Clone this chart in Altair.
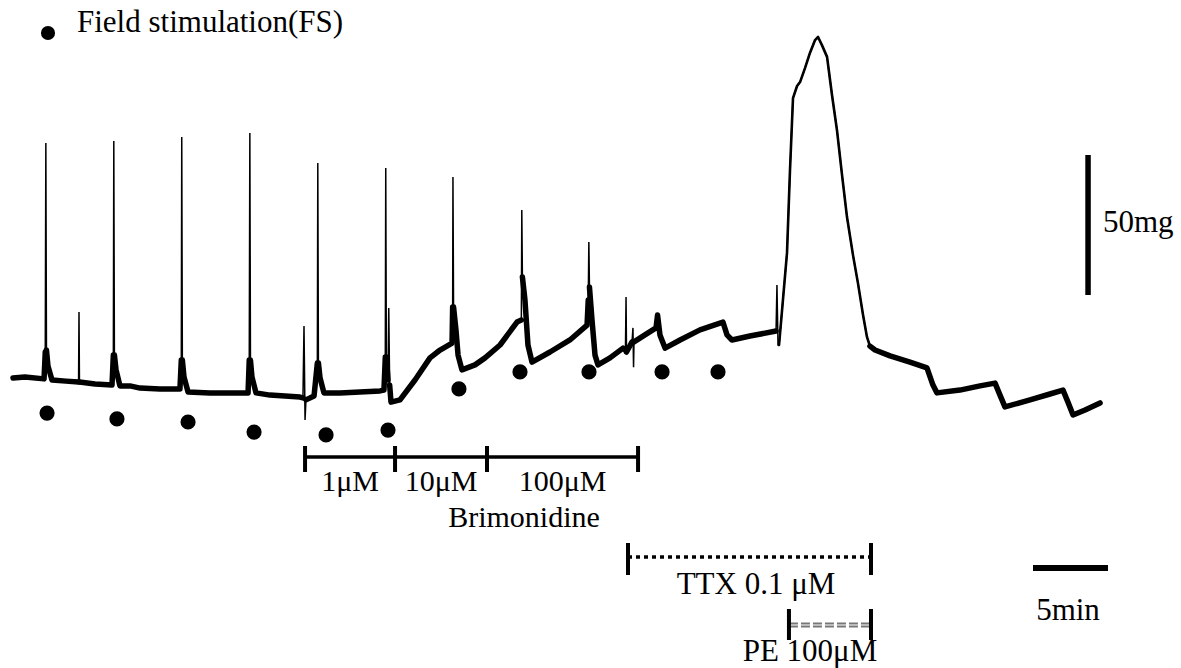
import altair as alt
import pandas as pd

# ---- isometric tension trace: time (min), tension (mg, relative), kind ----
# kind: b = noisy baseline band, s = thin fast spike, p = PE contraction
trace_min = [
    0, 0.8, 2.07, 2.15, 2.19, 2.23, 2.33, 2.6, 3.53, 4.37, 4.4, 4.43, 5.47, 6.6,
    6.69, 6.72, 6.76, 6.87, 7.13, 7.8, 8.47, 9.8, 11.13, 11.22, 11.25, 11.29, 11.4,
    11.67, 13.13, 14.47, 15.67, 15.75, 15.79, 15.83, 15.93, 16.2, 17.13, 18.13, 19.13,
    19.33, 19.4, 19.47, 19.53, 20.07, 20.29, 20.32, 20.36, 20.47, 20.73, 21.8, 23.13,
    24.47, 24.73, 24.82, 24.85, 24.89, 25.0, 25.05, 25.11, 25.2, 25.8, 26.8, 27.8,
    28.47, 29.27, 29.31, 29.33, 29.37, 29.53, 29.67, 29.93, 30.8, 31.47, 32.47, 33.6,
    33.89, 33.92, 33.96, 34.13, 34.33, 34.6, 35.8, 37.13, 38.27, 38.35, 38.39, 38.43,
    38.6, 38.8, 39.0, 39.8, 40.67, 40.83, 40.87, 40.9, 41.27, 41.33, 41.37, 41.4,
    42.13, 42.87, 42.97, 43.13, 43.47, 44.47, 45.8, 47.33, 47.6, 47.93, 49.13, 50.87,
    50.93, 51.0, 51.07, 51.33, 51.6, 51.8, 52.0, 52.27, 52.47, 52.8, 53.13, 53.47,
    53.67, 53.93, 54.27, 54.6, 54.93, 55.27, 55.6, 56.0, 56.33, 56.67, 56.93, 57.13,
    57.47, 58.47, 59.8, 60.93, 61.33, 61.6, 63.13, 64.47, 65.47, 65.8, 66.13, 67.8,
    69.13, 70.0, 70.33, 70.67, 71.47, 72.47,
]
trace_mg = [
    0.7, 1.1, 0.4, 10.0, 84.6, 10.7, 5.0, 0.0, -0.4, -0.7, 24.3, -0.7, -1.4, -1.8,
    8.9, 85.4, 8.9, 3.6, -2.1, -2.1, -2.9, -3.2, -3.2, 7.1, 86.8, 7.1, 1.1,
    -4.3, -4.6, -4.6, -4.6, 7.1, 88.2, 7.1, 1.1, -4.6, -5.4, -5.7, -6.1,
    -6.4, 19.3, -14.3, -7.1, -5.7, 6.1, 77.5, 6.1, 0.7, -4.6, -4.6, -4.3,
    -3.9, -3.6, 8.2, 75.7, 8.2, 0.0, 25.7, -1.8, -7.9, -7.1, 0.0, 7.9,
    10.7, 13.2, 26.1, 72.5, 26.1, 17.9, 8.9, 3.6, 5.4, 7.9, 12.5, 20.7,
    21.4, 60.7, 36.8, 28.6, 12.5, 6.4, 10.0, 14.3, 19.6, 28.6, 49.3, 33.2,
    21.4, 8.9, 5.4, 7.9, 11.4, 10.7, 29.6, 10.0, 13.6, 18.6, 4.6, 13.6,
    16.1, 18.6, 23.2, 16.1, 11.4, 14.3, 17.9, 20.7, 16.1, 14.3, 15.7, 17.5,
    33.9, 12.5, 12.5, 28.6, 45.4, 75.0, 100.7, 105.0, 106.4, 111.4, 116.8, 121.4,
    122.5, 119.6, 115.4, 101.8, 89.3, 73.2, 58.2, 44.6, 34.6, 23.2, 15.4, 12.1,
    10.7, 8.6, 6.4, 4.3, -1.8, -4.6, -3.6, -2.1, -1.1, -5.4, -9.6, -7.1,
    -5.0, -3.6, -7.9, -12.5, -10.7, -8.2,
]
trace_kind = list(
    "bbbbsbbbbbsbbb"
    "bsbbbbbbbbsbb"
    "bbbbbsbbbbbb"
    "bssbbbsbbbbb"
    "bbbsbbsbbbbb"
    "bbbsbbbbbbbb"
    "bsbbbbbbbbsb"
    "bbbbbbsbbssb"
    "bbbbbbbbbbbb"
    "sppppppppppp"
    "pppppppppppb"
    "bbbbbbbbbbbb"
    "bbbbbb"
)

# ---- field stimulation markers ----
fs_min = [2.27, 6.93, 11.67, 16.07, 20.87, 25.0, 29.73, 33.8, 38.4, 43.27, 47.0]
fs_mg = [-11.8, -13.9, -15.0, -18.6, -19.6, -17.9, -3.2, 2.9, 2.9, 2.9, 2.9]

# ---- drug applications (min) ----
dose_labels = ["1μM", "10μM", "100μM"]
dose_start = [19.47, 25.47, 31.6]
dose_end = [25.47, 31.6, 41.67]
ttx_span = [41.0, 57.2]
pe_span = [51.73, 57.2]

# ---- scale bars ----
bar_mg = [30.4, 80.4]      # 50 mg
bar_mg_time = 71.67
bar_min = [68.0, 73.0]     # 5 min

FONT = "Liberation Serif"
FS = 31
FS_DOSE = 30

# segment ids so that thick/medium strokes break around thin spikes
thick_seg, med_seg = [], []
ts = ms = 0
for k in trace_kind:
    if k != "b":
        ts += 1
    if k == "s":
        ms += 1
    thick_seg.append(ts)
    med_seg.append(ms)

trace = pd.DataFrame({"t": trace_min, "mg": trace_mg, "kind": trace_kind,
                      "tseg": thick_seg, "mseg": med_seg,
                      "i": list(range(len(trace_min)))})

xs = alt.Scale(domain=[-13 / 15, (1181 - 13) / 15], nice=False, zero=False)
ys = alt.Scale(domain=[(380 - 668) / 2.8, 380 / 2.8], nice=False, zero=False)


def X(f):
    return alt.X(f, type="quantitative", scale=xs, axis=None)


def Y(f):
    return alt.Y(f, type="quantitative", scale=ys, axis=None)


base = alt.Chart(trace)
thin = base.mark_line(color="black", strokeWidth=1.5).encode(
    x=X("t"), y=Y("mg"), order="i:Q")
medium = base.transform_filter("datum.kind != 's'").mark_line(
    color="black", strokeWidth=2.6, strokeJoin="round").encode(
    x=X("t"), y=Y("mg"), detail="mseg:N", order="i:Q")
thick = base.transform_filter("datum.kind == 'b'").mark_line(
    color="black", strokeWidth=5.5, strokeJoin="round", strokeCap="round").encode(
    x=X("t"), y=Y("mg"), detail="tseg:N", order="i:Q")

dots = alt.Chart(pd.DataFrame({"t": fs_min, "mg": fs_mg})).mark_circle(
    color="black", opacity=1, size=230).encode(x=X("t"), y=Y("mg"))

legend_dot = alt.Chart(pd.DataFrame({"a": [0]})).mark_circle(
    color="black", opacity=1, size=200).encode(x=alt.value(48), y=alt.value(33))
legend_txt = alt.Chart(pd.DataFrame({"txt": ["Field stimulation(FS)"]})).mark_text(
    font=FONT, fontSize=FS, align="left", baseline="alphabetic", color="black").encode(
    x=alt.value(77), y=alt.value(32), text="txt:N")

doses = pd.DataFrame({"lab": dose_labels, "s": dose_start, "e": dose_end})
doses["mid"] = (doses["s"] + doses["e"]) / 2
dose_line = alt.Chart(pd.DataFrame({"s": [dose_start[0]], "e": [dose_end[-1]]})).mark_rule(
    color="black", strokeWidth=3.5).encode(x=X("s"), x2="e", y=alt.value(457))
dose_ticks = alt.Chart(pd.DataFrame({"t": dose_start + [dose_end[-1]]})).mark_rule(
    color="black", strokeWidth=4).encode(x=X("t"), y=alt.value(446), y2=alt.value(472))
dose_txt = alt.Chart(doses).mark_text(
    font=FONT, fontSize=FS_DOSE, align="center", baseline="alphabetic", color="black").encode(
    x=X("mid"), y=alt.value(491), text="lab:N")
brim_txt = alt.Chart(pd.DataFrame({"txt": ["Brimonidine"]})).mark_text(
    font=FONT, fontSize=FS_DOSE, align="center", baseline="alphabetic", color="black").encode(
    x=alt.value(524), y=alt.value(527), text="txt:N")

ttx_line = alt.Chart(pd.DataFrame({"s": [ttx_span[0]], "e": [ttx_span[1]]})).mark_rule(
    color="black", strokeWidth=3.5, strokeDash=[4, 4]).encode(
    x=X("s"), x2="e", y=alt.value(557))
ttx_ticks = alt.Chart(pd.DataFrame({"t": ttx_span})).mark_rule(
    color="black", strokeWidth=4).encode(x=X("t"), y=alt.value(543), y2=alt.value(575))
ttx_txt = alt.Chart(pd.DataFrame({"txt": ["TTX 0.1 μM"]})).mark_text(
    font=FONT, fontSize=FS, align="center", baseline="alphabetic", color="black").encode(
    x=alt.value(756), y=alt.value(594), text="txt:N")

pe_line = alt.Chart(pd.DataFrame({"s": [pe_span[0]], "e": [pe_span[1]]})).mark_rule(
    color="#777777", strokeWidth=5, strokeDash=[9, 3]).encode(
    x=X("s"), x2="e", y=alt.value(625))
pe_gap = alt.Chart(pd.DataFrame({"s": [pe_span[0]], "e": [pe_span[1]]})).mark_rule(
    color="white", strokeWidth=1.2).encode(x=X("s"), x2="e", y=alt.value(625))
pe_ticks = alt.Chart(pd.DataFrame({"t": pe_span})).mark_rule(
    color="black", strokeWidth=4).encode(x=X("t"), y=alt.value(609), y2=alt.value(640))
pe_txt = alt.Chart(pd.DataFrame({"txt": ["PE 100μM"]})).mark_text(
    font=FONT, fontSize=FS, align="center", baseline="alphabetic", color="black").encode(
    x=alt.value(810), y=alt.value(661), text="txt:N")

mg_bar = alt.Chart(pd.DataFrame({"t": [bar_mg_time], "a": [bar_mg[0]], "b": [bar_mg[1]]})).mark_rule(
    color="black", strokeWidth=5.5).encode(x=X("t"), y=Y("a"), y2="b")
mg_txt = alt.Chart(pd.DataFrame({"txt": ["50mg"]})).mark_text(
    font=FONT, fontSize=FS, align="left", baseline="alphabetic", color="black").encode(
    x=alt.value(1103), y=alt.value(232), text="txt:N")
min_bar = alt.Chart(pd.DataFrame({"a": [bar_min[0]], "b": [bar_min[1]]})).mark_rule(
    color="black", strokeWidth=6).encode(x=X("a"), x2="b", y=alt.value(568))
min_txt = alt.Chart(pd.DataFrame({"txt": ["5min"]})).mark_text(
    font=FONT, fontSize=FS, align="center", baseline="alphabetic", color="black").encode(
    x=alt.value(1068), y=alt.value(620), text="txt:N")

chart = alt.layer(
    thin, medium, thick, dots, legend_dot, legend_txt,
    dose_line, dose_ticks, dose_txt, brim_txt,
    ttx_line, ttx_ticks, ttx_txt,
    pe_line, pe_gap, pe_ticks, pe_txt,
    mg_bar, mg_txt, min_bar, min_txt,
).properties(
    width=1181, height=668, padding=0,
    autosize=alt.AutoSizeParams(type="none"),
    background="white",
).configure_view(stroke=None)

chart.save("out.html", embed_options={"renderer": "svg", "actions": False})
